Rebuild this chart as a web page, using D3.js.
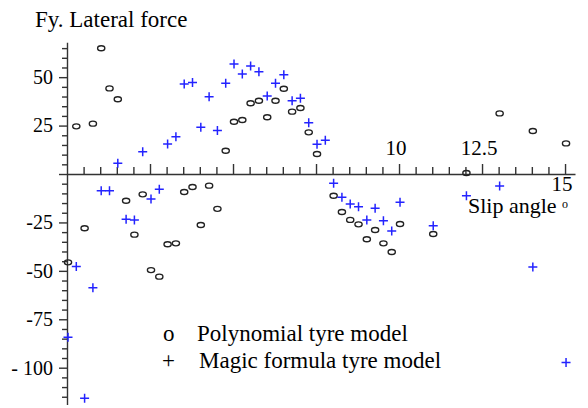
<!DOCTYPE html>
<html>
<head>
<meta charset="utf-8">
<script src="https://cdn.jsdelivr.net/npm/d3@7"></script>
<style>
body{margin:0;background:#fff;}
svg{display:block;font-family:"Liberation Serif","Times New Roman",serif;}
</style>
</head>
<body>
<script>
// slip angle samples (deg): every 0.25 up to 10, then every degree
var slipAngle=[0,0.25,0.5,0.75,1,1.25,1.5,1.75,2,2.25,2.5,2.75,3,3.25,3.5,3.75,
	4,4.25,4.5,4.75,5,5.25,5.5,5.75,6,6.25,6.5,6.75,7,7.25,7.5,7.75,
	8,8.25,8.5,8.75,9,9.25,9.5,9.75,10,11,12,13,14,15];
// Fy. null = no point drawn there
var polyForce=[-45.6,24.6,-28,26,64.9,44.2,38.6,-13.8,-31.3,-10.5,-49.6,-53,-36.3,-35.8,-9.3,-6.7,
	-26.3,-6,-18,12,27,27.9,36.5,37.8,29.3,37.8,44,32.2,34.1,21.5,10.3,null,
	-11.2,-19.6,-23.7,-26,-33.7,-28.9,-35.8,-40.3,-25.8,-31,0.5,31.3,22.2,15.8];
var magicForce=[-84.3,-47.8,-115.8,-58.7,-8.6,-8.6,5.5,-23.4,-23.7,11.5,-12.9,-7.9,15.5,19.3,46.5,47.3,
	24.1,39.9,22.4,46.8,56.8,51.6,55.8,52.8,40.3,46.8,51.3,37.8,39.1,26.5,15.3,17.4,
	-4.8,-12,-15.5,-16.9,-23.7,-17.7,-24.1,-29.4,-14.6,-26.7,-11.2,-6.2,-48,-97.3];
// tick labels
var yTickVals=[50,25,-25,-50,-75,-100];
var yTickText=["50","25","-25","-50","-75","- 100"];
var xTickVals=[10,12.5,15];
var xTickText=["10","12.5","15"];
var seriesNames=["Polynomial tyre model","Magic formula tyre model"];

var W=588,H=408;
var svg=d3.select("body").append("svg").attr("width",W).attr("height",H);

var x=d3.scaleLinear().domain([0,15.3]).range([67,575]);
var y=d3.scaleLinear().domain([-119,68]).range([404.5,42.3]);

var axisCol="#333";

// y axis: minor every 5, major every 25
var yMinor=d3.range(-115,66,5).filter(function(v){return v%25!=0;});
var yMajor=d3.range(-100,51,25);
svg.append("g").attr("transform","translate("+x(0)+",0)")
	.call(d3.axisLeft(y).tickValues(yMinor).tickSize(5).tickSizeOuter(0).tickFormat(""))
	.call(function(g){g.select(".domain").remove();});
var yAx=svg.append("g").attr("transform","translate("+x(0)+",0)")
	.call(d3.axisLeft(y).tickValues(yMajor).tickSize(8).tickSizeOuter(0).tickPadding(6)
		.tickFormat(function(v){var i=yTickVals.indexOf(v);return i<0?"":yTickText[i];}));
yAx.selectAll("text").attr("font-size",20).attr("fill","#000").attr("font-family","Liberation Serif");

// x axis: ticks point up from the zero line
var xMinor=d3.range(0.5,15.01,0.5).filter(function(v){return v%2.5!=0;});
var xMajor=d3.range(2.5,15.01,2.5);
svg.append("g").attr("transform","translate(0,"+y(0)+")")
	.call(d3.axisTop(x).tickValues(xMinor).tickSize(7).tickSizeOuter(0).tickFormat(""))
	.call(function(g){g.select(".domain").remove();});
svg.append("g").attr("transform","translate(0,"+y(0)+")")
	.call(d3.axisTop(x).tickValues(xMajor).tickSize(10).tickSizeOuter(0).tickFormat(""));

svg.selectAll(".domain, .tick line").attr("stroke",axisCol).attr("stroke-width",1.4);

// x labels: maple puts 10 and 12.5 above the axis, 15 below
svg.selectAll(".xlab").data(xTickVals).enter().append("text")
	.attr("class","xlab")
	.attr("x",function(d){return x(d)-3;})
	.attr("y",function(d){return d==15?y(0)+17:y(0)-19;})
	.attr("text-anchor","middle").attr("font-size",21)
	.text(function(d,i){return xTickText[i];});

// axis titles
svg.append("text").attr("x",35).attr("y",27).attr("font-size",23).text("Fy. Lateral force");
var sl=svg.append("text").attr("x",468).attr("y",y(0)+39).attr("font-size",22).text("Slip angle ");
sl.append("tspan").attr("font-size",12).attr("dy",-5).text("o");

// points
var pts=slipAngle.map(function(s,i){return {s:s,p:polyForce[i],m:magicForce[i]};});
svg.append("g").selectAll("ellipse").data(pts.filter(function(d){return d.p!=null;}))
	.enter().append("ellipse")
	.attr("cx",function(d){return x(d.s)+1;})
	.attr("cy",function(d){return y(d.p);})
	.attr("rx",3.6).attr("ry",2.5)
	.attr("fill","none").attr("stroke","#222").attr("stroke-width",1.4);
svg.append("g").selectAll("path").data(pts.filter(function(d){return d.m!=null;}))
	.enter().append("path")
	.attr("transform",function(d){return "translate("+(x(d.s)+1)+","+y(d.m)+")";})
	.attr("d","M-4.5,0H4.5M0,-4.5V4.5")
	.attr("stroke","#2323ff").attr("stroke-width",1.5).attr("fill","none");

// legend
var leg=svg.append("g").attr("font-size",23);
leg.append("text").attr("x",163).attr("y",341).text("o");
leg.append("text").attr("x",197).attr("y",341).text(seriesNames[0]);
leg.append("text").attr("x",162).attr("y",368).text("+");
leg.append("text").attr("x",199).attr("y",368).text(seriesNames[1]);
</script>
</body>
</html>
